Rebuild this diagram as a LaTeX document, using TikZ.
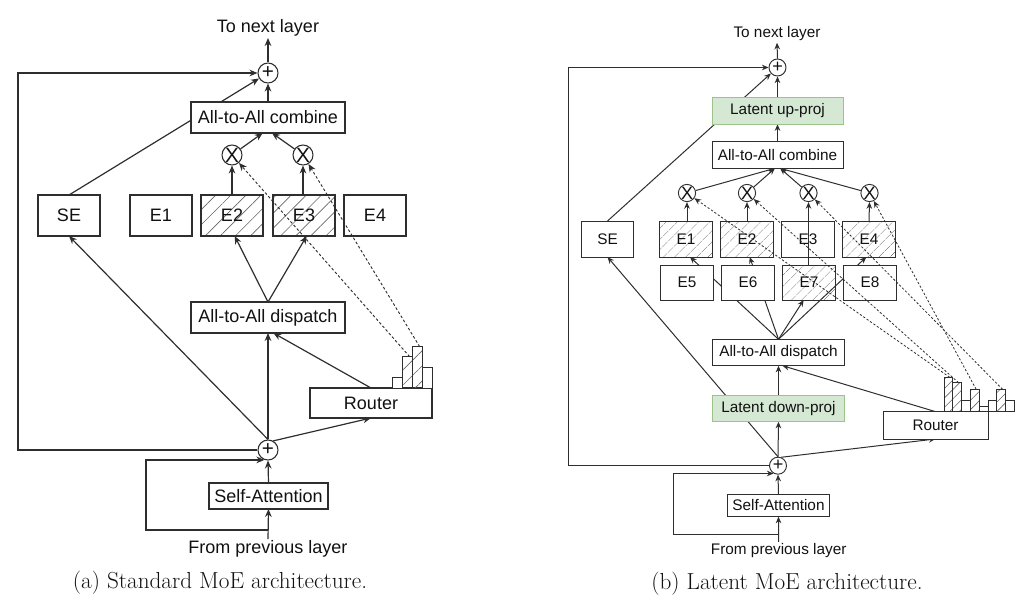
\documentclass[tikz,border=0pt]{standalone}
\usepackage{fontspec}
\newfontfamily\diagfont{Liberation Sans}
\usetikzlibrary{arrows.meta,patterns.meta,calc}
\pgfdeclarelayer{bg}
\pgfsetlayers{bg,main}
\definecolor{ln}{HTML}{2E2E2E}
\definecolor{txt}{HTML}{111111}
\definecolor{gfill}{HTML}{D5E8D4}
\definecolor{gdraw}{HTML}{9CC48A}
\definecolor{hatchc}{HTML}{666666}
\begin{document}
\begin{tikzpicture}[x=0.75pt,y=-0.75pt,
  fA/.style={font=\diagfont\fontsize{13.5}{16}\selectfont, text=txt},
  fB/.style={font=\diagfont\fontsize{11.5}{14}\selectfont, text=txt},
  boxA/.style={fA, draw=ln, fill=white, line width=0.8pt, inner sep=0pt, outer sep=0pt},
  boxB/.style={fB, draw=ln, fill=white, line width=0.7pt, inner sep=0pt, outer sep=0pt},
  hatchA/.style={boxA, fill=none, pattern={Lines[angle=45,distance=8pt,line width=0.5pt]}, pattern color=hatchc},
  hatchB/.style={boxB, fill=none, pattern={Lines[angle=45,distance=6.5pt,line width=0.45pt]}, pattern color=hatchc},
  greenB/.style={boxB, fill=gfill, draw=gdraw},
  ebA/.style={minimum width=46.5pt, minimum height=30.75pt},
  ebB/.style={minimum width=39.5pt, minimum height=27pt},
  ebB2/.style={minimum width=39.5pt, minimum height=26.25pt},
  circA/.style={font=\diagfont\fontsize{15.5}{15}\selectfont, text=txt, circle, draw=ln, fill=white, line width=0.8pt, inner sep=0pt, minimum size=15pt},
  circB/.style={font=\diagfont\fontsize{13.5}{13}\selectfont, text=txt, circle, draw=ln, fill=white, line width=0.7pt, inner sep=0pt, minimum size=12.75pt},
  lblA/.style={fA, inner sep=1pt},
  lblB/.style={fB, inner sep=1pt},
  capt/.style={font=\fontsize{17.4}{20}\selectfont, text=txt},
  arrA/.style={draw=ln, line width=0.9pt, -{Stealth[length=6pt,width=5pt]}},
  arrB/.style={draw=ln, line width=0.75pt, -{Stealth[length=5pt,width=4.2pt]}},
  dshA/.style={draw=ln, line width=0.7pt, dash pattern=on 2pt off 1.6pt, -{Stealth[length=6pt,width=5pt]}},
  dshB/.style={draw=ln, line width=0.6pt, dash pattern=on 1.7pt off 1.4pt, -{Stealth[length=5pt,width=4.2pt]}},
  barA/.style={draw=ln, fill=white, line width=0.7pt, inner sep=0pt, outer sep=0pt, minimum width=7.5pt, anchor=south west},
  hbarA/.style={barA, fill=none, pattern={Lines[angle=45,distance=8pt,line width=0.5pt]}, pattern color=hatchc},
  barB/.style={draw=ln, fill=white, line width=0.6pt, inner sep=0pt, outer sep=0pt, minimum width=6.6pt, anchor=south west},
  hbarB/.style={barB, fill=none, pattern={Lines[angle=45,distance=5pt,line width=0.45pt]}, pattern color=hatchc}
]
\useasboundingbox (0,0) rectangle (1024,607);

% ================= Panel (a) =================
\node[lblA] (toA) at (268,28) {To next layer};
\node[circA] (pA1) at (268,73) {+};
\node[boxA, minimum width=115.5pt, minimum height=23.25pt] (combA) at (268,117.5) {All-to-All combine};
\node[circA] (xA1) at (232,155) {X};
\node[circA] (xA2) at (303,155) {X};
\node[boxA, ebA] (seA) at (69,215.5) {SE};
\node[boxA, ebA] (e1A) at (161,215.5) {E1};
\node[hatchA, ebA] (e2A) at (232,215.5) {E2};
\node[hatchA, ebA] (e3A) at (304,215.5) {E3};
\node[boxA, ebA] (e4A) at (375,215.5) {E4};
\node[boxA, minimum width=115.5pt, minimum height=23.25pt] (dispA) at (268,317.5) {All-to-All dispatch};
\node[boxA, minimum width=91.5pt, minimum height=22.5pt] (routA) at (371,403) {Router};
\node[barA, minimum height=7.7pt] (ba1) at (392,388) {};
\node[hbarA, minimum height=23.5pt] (ba2) at (402,388) {};
\node[hbarA, minimum height=31pt] (ba3) at (412,388) {};
\node[barA, minimum height=15.75pt] (ba4) at (422,388) {};
\node[circA] (pA2) at (268,450) {+};
\node[boxA, minimum width=89.25pt, minimum height=19.5pt] (saA) at (268.5,496) {Self-Attention};
\node[lblA] (fromA) at (268,549) {From previous layer};
\node[capt] (capA) at (220,583) {(a) Standard MoE architecture.};
\coordinate (fbA) at (18,73);
\coordinate (rA) at (268,530);
\coordinate (rAl) at (146,530);

\begin{pgfonlayer}{bg}
\draw[arrA] (pA1.north) -- (toA.south);
\draw[arrA] (pA2.west) -| (fbA) -- (pA1.west);
\draw[arrA] (combA.north) -- (pA1.south);
\draw[arrA] (seA.north) -- (pA1);
\draw[arrA] (xA1) -- ([xshift=-4pt]combA.south);
\draw[arrA] (xA2) -- ([xshift=3pt]combA.south);
\draw[arrA] (e2A.north) -- (xA1.south);
\draw[arrA] (e3A.north -| xA2) -- (xA2.south);
\draw[arrA] (dispA.north) -- ([xshift=2pt]e2A.south);
\draw[arrA] (dispA.north) -- ([xshift=2pt]e3A.south);
\draw[arrA] (pA2.north) -- (dispA.south);
\draw[arrA] (pA2.north) -- (seA.south);
\draw[arrA] (routA.north) -- ([xshift=4pt]dispA.south);
\draw[arrA] (pA2.60) -- (routA.south);
\draw[arrA] (saA.north) -- (pA2.south);
\draw[arrA] (fromA.north) -- (saA.south);
\draw[arrA] (rA) -- (rAl) |- (pA2.250);
\end{pgfonlayer}
\draw[dshA] ([xshift=2pt]ba2.north) -- (xA1);
\draw[dshA] ([xshift=2pt]ba3.north) -- (xA2);

% ================= Panel (b) =================
\node[lblB] (toB) at (777,34) {To next layer};
\node[circB] (pB1) at (777.5,67.5) {+};
\node[greenB, minimum width=98.25pt, minimum height=20.25pt] (upB) at (777.5,110.7) {Latent up-proj};
\node[boxB, minimum width=98.25pt, minimum height=20pt] (combB) at (777.5,155) {All-to-All combine};
\node[circB] (xB1) at (687,193) {X};
\node[circB] (xB2) at (747,193) {X};
\node[circB] (xB3) at (808.5,193) {X};
\node[circB] (xB4) at (869.5,193) {X};
\node[boxB, ebB] (seB) at (607.5,239) {SE};
\node[hatchB, ebB] (e1B) at (686,239) {E1};
\node[hatchB, ebB] (e2B) at (747,239) {E2};
\node[boxB, fill=none, ebB] (e3B) at (808,239) {E3};
\node[hatchB, ebB] (e4B) at (869,239) {E4};
\node[boxB, ebB2] (e5B) at (687,282.5) {E5};
\node[boxB, ebB2] (e6B) at (748,282.5) {E6};
\node[hatchB, ebB2] (e7B) at (809,282.5) {E7};
\node[boxB, ebB2] (e8B) at (870,282.5) {E8};
\node[boxB, minimum width=98.7pt, minimum height=19.8pt] (dispB) at (778.5,352.5) {All-to-All dispatch};
\node[greenB, minimum width=98.7pt, minimum height=19.5pt] (downB) at (778.5,408.7) {Latent down-proj};
\node[boxB, minimum width=78.75pt, minimum height=20.5pt] (routB) at (935.5,425.3) {Router};
\node[hbarB, minimum height=25.8pt] (bb1) at (944,411.7) {};
\node[hbarB, minimum height=21.75pt] (bb2) at (952.8,411.7) {};
\node[barB, minimum height=8.25pt] (bb3) at (961.6,411.7) {};
\node[hbarB, minimum height=16.8pt] (bb4) at (970.4,411.7) {};
\node[barB, minimum height=4.3pt] (bb5) at (979.2,411.7) {};
\node[barB, minimum height=8.25pt] (bb6) at (988,411.7) {};
\node[hbarB, minimum height=16.8pt] (bb7) at (996.8,411.7) {};
\node[barB, minimum height=8.25pt] (bb8) at (1005.6,411.7) {};
\node[circB] (pB2) at (778,465.7) {+};
\node[boxB, minimum width=76.2pt, minimum height=17pt] (saB) at (778.5,505.3) {Self-Attention};
\node[lblB] (fromB) at (778.7,550.7) {From previous layer};
\node[capt] (capB) at (787,583.3) {(b) Latent MoE architecture.};
\coordinate (fbB) at (568.7,67.5);
\coordinate (rB) at (778,534.3);
\coordinate (rBl) at (673.7,534.3);

\begin{pgfonlayer}{bg}
\draw[arrB] (pB1.north) -- (toB.south);
\draw[arrB] (pB2.west) -| (fbB) -- (pB1.west);
\draw[arrB] (upB.north) -- (pB1.south);
\draw[arrB] (seB.north) -- (pB1);
\draw[arrB] (combB.north) -- (upB.south);
\draw[arrB] (xB1) -- ([xshift=-2pt]combB.south);
\draw[arrB] (xB2) -- ([xshift=-2pt]combB.south);
\draw[arrB] (xB3) -- ([xshift=2pt]combB.south);
\draw[arrB] (xB4) -- ([xshift=2pt]combB.south);
\draw[arrB] (e1B.north -| xB1) -- (xB1.south);
\draw[arrB] (e2B.north) -- (xB2.south);
\draw[arrB] (e4B.north) -- (xB4.south);
\draw[arrB] (dispB.north) -- ([xshift=3pt]e1B.south);
\draw[arrB] (dispB.north) -- ([xshift=2pt]e2B.south);
\draw[arrB] (dispB.north) -- ([xshift=-4pt]e7B.south);
\draw[arrB] (dispB.north) -- ([xshift=-2pt]e4B.south);
\draw[arrB] (downB.north) -- (dispB.south);
\draw[arrB] (routB.north) -- ([xshift=3pt]dispB.south);
\draw[arrB] (pB2.north) -- (downB.south);
\draw[arrB] (pB2.north) -- (seB.south);
\draw[arrB] (pB2.70) -- (routB.south);
\draw[arrB] (saB.north) -- (pB2.south);
\draw[arrB] (fromB.north) -- (saB.south);
\draw[arrB] (rB) -- (rBl) |- (pB2.240);
\end{pgfonlayer}
\draw[arrB] (e7B.north -| xB3) -- (xB3.south);
\draw[dshB] ([xshift=1pt]bb1.north) -- (xB1);
\draw[dshB] ([xshift=1pt]bb2.north) -- (xB2);
\draw[dshB] ([xshift=1pt]bb7.north) -- (xB3);
\draw[dshB] ([xshift=1pt]bb4.north) -- (xB4);
\end{tikzpicture}
\end{document}
